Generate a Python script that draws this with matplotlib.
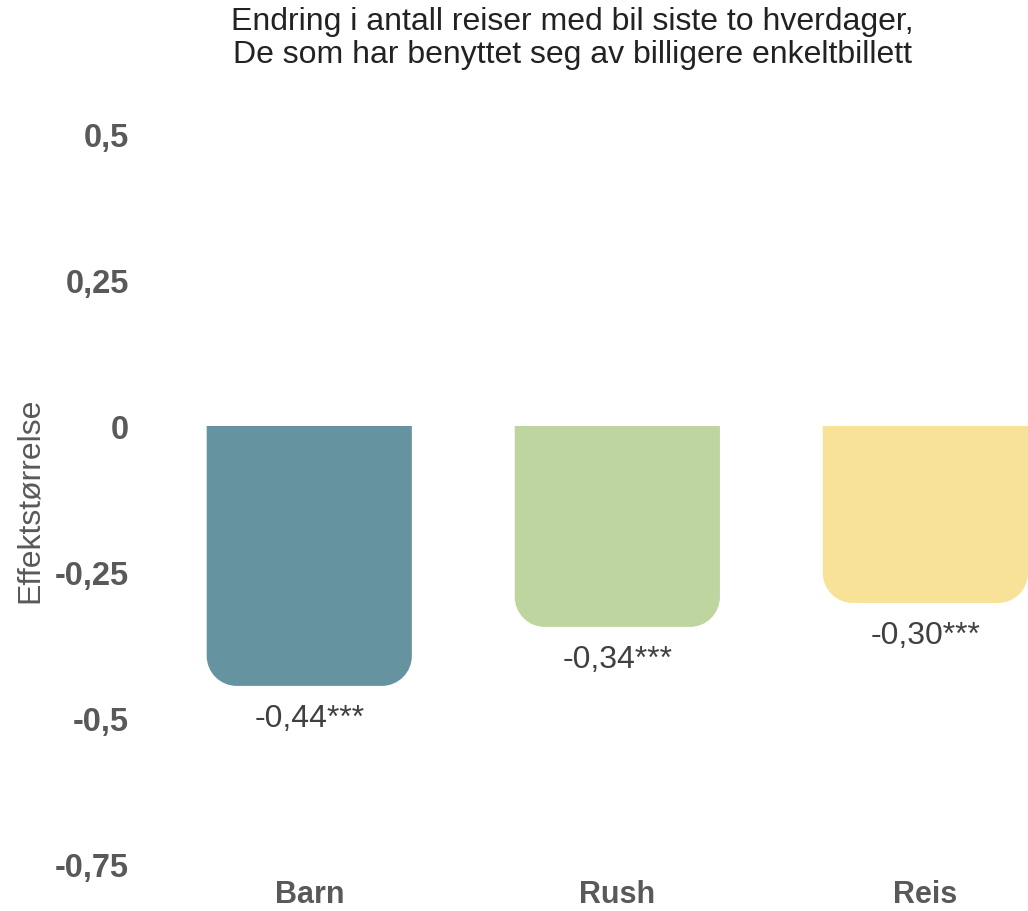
import matplotlib.pyplot as plt
import numpy as np
from matplotlib.path import Path
from matplotlib.patches import PathPatch

plt.rcParams['font.family'] = ['Liberation Sans', 'DejaVu Sans']

categories = ['Barn', 'Rush', 'Reis']
values = [-0.445, -0.344, -0.303]
labels = ['-0,44***', '-0,34***', '-0,30***']
colors = ['#6594a0', '#bfd5a0', '#f8e298']
yticks = [0.5, 0.25, 0, -0.25, -0.5, -0.75]
ytick_labels = ['0,5', '0,25', '0', '-0,25', '-0,5', '-0,75']

fig = plt.figure(figsize=(10.28, 9.12), dpi=100)
ax = fig.add_axes([0.151, 0.0515, 0.849, 0.8005])
ax.set_xlim(-0.5, 2.333)
ax.set_ylim(-0.75, 0.5)

x = np.arange(len(categories))
width = 0.666
bars = ax.bar(x, values, width=width, color=colors)

# swap the plain bars for bars with rounded bottom corners
rpx = 30
sx = (ax.get_xlim()[1] - ax.get_xlim()[0]) / (0.849 * 1028)
sy = (ax.get_ylim()[1] - ax.get_ylim()[0]) / (0.8005 * 912)
rx, ry = rpx * sx, rpx * sy
k = 0.5523
for b, c in zip(bars, colors):
    x0 = b.get_x()
    x1 = x0 + b.get_width()
    top = 0
    bot = min(b.get_y(), b.get_y() + b.get_height())
    verts = [
        (x0, top),
        (x0, bot + ry),
        (x0, bot + ry - k * ry), (x0 + rx - k * rx, bot), (x0 + rx, bot),
        (x1 - rx, bot),
        (x1 - rx + k * rx, bot), (x1, bot + ry - k * ry), (x1, bot + ry),
        (x1, top),
        (x0, top),
    ]
    codes = [Path.MOVETO, Path.LINETO,
             Path.CURVE4, Path.CURVE4, Path.CURVE4,
             Path.LINETO,
             Path.CURVE4, Path.CURVE4, Path.CURVE4,
             Path.LINETO, Path.CLOSEPOLY]
    ax.add_patch(PathPatch(Path(verts, codes), facecolor=c, edgecolor='none'))
    b.set_visible(False)

for xi, v, lab in zip(x, values, labels):
    ax.annotate(lab, (xi, v), xytext=(0, -12), textcoords='offset points',
                ha='center', va='top', fontsize=23, color='#404040')

ax.set_yticks(yticks)
ax.set_yticklabels(ytick_labels, fontsize=23.5, fontweight='bold', color='#595959')
ax.set_xticks(x)
ax.set_xticklabels(categories, fontsize=22, fontweight='bold', color='#595959')
ax.tick_params(length=0)
ax.tick_params(axis='y', pad=19)
ax.tick_params(axis='x', pad=11)
for s in ax.spines.values():
    s.set_visible(False)

ax.set_ylabel('Effektstørrelse', fontsize=23, color='#595959')
ax.yaxis.set_label_coords(-0.126, 0.5)
fig.text(0.557, 0.992, 'Endring i antall reiser med bil siste to hverdager,\n'
         'De som har benyttet seg av billigere enkeltbillett',
         ha='center', va='top', fontsize=23, color='#222222', linespacing=1.12)

fig.savefig('out.png', dpi=100)
